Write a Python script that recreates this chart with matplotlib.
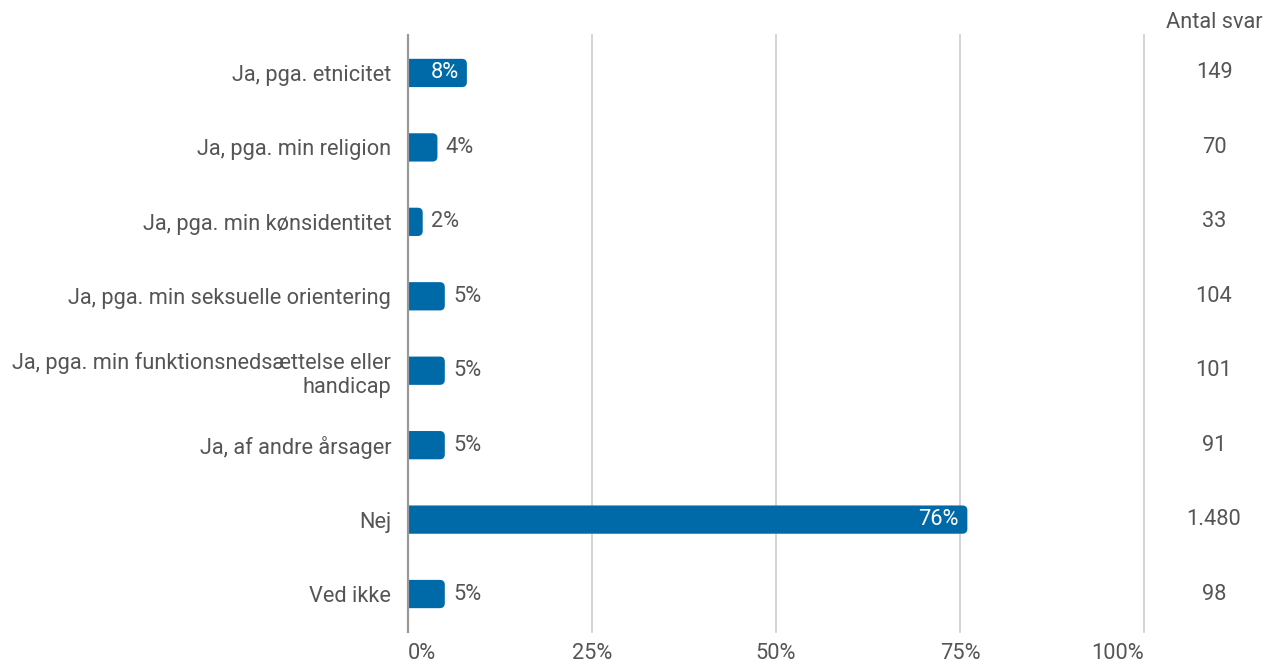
import matplotlib
matplotlib.use("Agg")
import matplotlib.pyplot as plt
from matplotlib.patches import FancyBboxPatch
import matplotlib.transforms as mtrans

plt.rcParams['font.family'] = ['Roboto', 'DejaVu Sans']

categories = [
    "Ja, pga. etnicitet",
    "Ja, pga. min religion",
    "Ja, pga. min kønsidentitet",
    "Ja, pga. min seksuelle orientering",
    "Ja, pga. min funktionsnedsættelse eller\nhandicap",
    "Ja, af andre årsager",
    "Nej",
    "Ved ikke",
]
values = [8, 4, 2, 5, 5, 5, 76, 5]
counts = ["149", "70", "33", "104", "101", "91", "1.480", "98"]
xticks = [0, 25, 50, 75, 100]
xticklabels = ["0%", "25%", "50%", "75%", "100%"]

W, H = 1265, 663
fig = plt.figure(figsize=(W / 100, H / 100), dpi=100)
ax_top, ax_bot = 35, 632
ax = fig.add_axes([408 / W, 1 - ax_bot / H, 736 / W, (ax_bot - ax_top) / H])

bar_color = "#006aa9"
text_color = "#555555"
fs = 15.7

ys = list(range(len(categories)))
bars = ax.barh(ys, values, height=0.38, color=bar_color)
ax.set_xlim(0, 100)
ax.set_ylim(7.51, -0.51)

# replace bars with rounded versions
px_x = 736 / 100.0
px_y = (ax_bot - ax_top) / (7.51 + 0.51)
r_px = 5
for b in bars:
    b.set_visible(False)
    x0 = -2
    w = b.get_width() - x0
    y0 = b.get_y()
    h = b.get_height()
    p = FancyBboxPatch((x0, y0), w, h,
                       boxstyle=f"round,pad=0,rounding_size={r_px / px_x}",
                       mutation_aspect=px_x / px_y,
                       facecolor=bar_color, edgecolor="none", zorder=3)
    ax.add_patch(p)

for y, v in zip(ys, values):
    if v >= 7:
        ax.annotate(f"{v}%", (v, y), xytext=(-6, 0), textcoords="offset points",
                    ha="right", va="center", color="white", fontsize=fs, zorder=4)
    else:
        ax.annotate(f"{v}%", (v, y), xytext=(6, 0), textcoords="offset points",
                    ha="left", va="center", color=text_color, fontsize=fs, zorder=4)

ax.set_yticks(ys)
ax.set_yticklabels(categories, fontsize=fs, color=text_color, ha="right",
                   multialignment="right", linespacing=1.2)
ax.tick_params(axis="y", length=0, pad=12)
ax.set_xticks(xticks)
ax.set_xticklabels(xticklabels, fontsize=fs, color=text_color)
ax.tick_params(axis="x", length=0, pad=8)
xt = ax.get_xticklabels()
xt[0].set_ha("left")
xt[0].set_x(-0.4)
xt[-1].set_ha("right")
xt[-1].set_x(100.4)

for x in xticks[1:]:
    ax.axvline(x, color="#cccccc", linewidth=1.2, zorder=0, clip_on=False)
for s in ax.spines.values():
    s.set_visible(False)
ax.axvline(0, color="#999999", linewidth=1.6, zorder=5, clip_on=False)

trans = mtrans.blended_transform_factory(ax.transAxes, ax.transData)
cx = (1214 - 408) / 736
for y, c in zip(ys, counts):
    ax.text(cx, y, c, transform=trans, ha="center", va="center",
            fontsize=fs, color=text_color, clip_on=False)
ax.text(cx, 1 - 23 / H, "Antal svar",
        transform=mtrans.blended_transform_factory(ax.transAxes, fig.transFigure),
        ha="center", va="center", fontsize=fs, color=text_color)

fig.savefig("out.png", dpi=100, facecolor="white")
